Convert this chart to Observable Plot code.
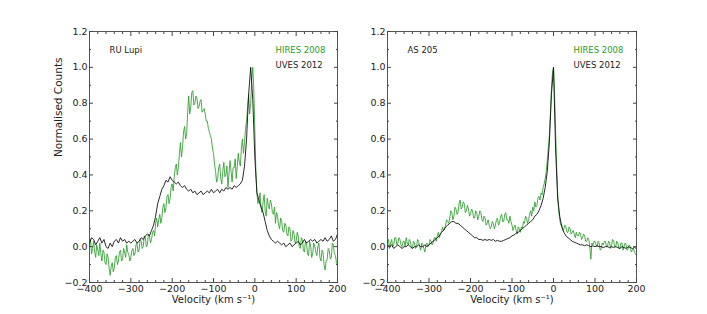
<!DOCTYPE html>
<html><head><meta charset="utf-8">
<script src="https://cdn.jsdelivr.net/npm/d3@7"></script>
<script src="https://cdn.jsdelivr.net/npm/@observablehq/plot@0.6"></script>
<style>
body{margin:0;background:#fff;}
#wrap{position:relative;width:707px;height:314px;font-family:"DejaVu Sans";}
#wrap svg{position:absolute;top:0;}
</style></head><body><div id="wrap"></div>
<script>
// UVES grid (5 km/s)
const velocity = [
-400,-395,-390,-385,-380,-375,-370,-365,-360,-355,
-350,-345,-340,-335,-330,-325,-320,-315,-310,-305,
-300,-295,-290,-285,-280,-275,-270,-265,-260,-255,
-250,-245,-240,-235,-230,-225,-220,-215,-210,-205,
-200,-195,-190,-185,-180,-175,-170,-165,-160,-155,
-150,-145,-140,-135,-130,-125,-120,-115,-110,-105,
-100,-95,-90,-85,-80,-75,-70,-65,-60,-55,
-50,-45,-40,-35,-30,-25,-20,-15,-10,-5,
0,5,10,15,20,25,30,35,40,45,
50,55,60,65,70,75,80,85,90,95,
100,105,110,115,120,125,130,135,140,145,
150,155,160,165,170,175,180,185,190,195,
200];

// HIRES grid (2.5 km/s)
const velocityFine = [
-400,-397.5,-395,-392.5,-390,-387.5,-385,-382.5,-380,-377.5,-375,-372.5,-370,-367.5,-365,-362.5,-360,-357.5,-355,-352.5,
-350,-347.5,-345,-342.5,-340,-337.5,-335,-332.5,-330,-327.5,-325,-322.5,-320,-317.5,-315,-312.5,-310,-307.5,-305,-302.5,
-300,-297.5,-295,-292.5,-290,-287.5,-285,-282.5,-280,-277.5,-275,-272.5,-270,-267.5,-265,-262.5,-260,-257.5,-255,-252.5,
-250,-247.5,-245,-242.5,-240,-237.5,-235,-232.5,-230,-227.5,-225,-222.5,-220,-217.5,-215,-212.5,-210,-207.5,-205,-202.5,
-200,-197.5,-195,-192.5,-190,-187.5,-185,-182.5,-180,-177.5,-175,-172.5,-170,-167.5,-165,-162.5,-160,-157.5,-155,-152.5,
-150,-147.5,-145,-142.5,-140,-137.5,-135,-132.5,-130,-127.5,-125,-122.5,-120,-117.5,-115,-112.5,-110,-107.5,-105,-102.5,
-100,-97.5,-95,-92.5,-90,-87.5,-85,-82.5,-80,-77.5,-75,-72.5,-70,-67.5,-65,-62.5,-60,-57.5,-55,-52.5,
-50,-47.5,-45,-42.5,-40,-37.5,-35,-32.5,-30,-27.5,-25,-22.5,-20,-17.5,-15,-12.5,-10,-7.5,-5,-2.5,
0,2.5,5,7.5,10,12.5,15,17.5,20,22.5,25,27.5,30,32.5,35,37.5,40,42.5,45,47.5,
50,52.5,55,57.5,60,62.5,65,67.5,70,72.5,75,77.5,80,82.5,85,87.5,90,92.5,95,97.5,
100,102.5,105,107.5,110,112.5,115,117.5,120,122.5,125,127.5,130,132.5,135,137.5,140,142.5,145,147.5,
150,152.5,155,157.5,160,162.5,165,167.5,170,172.5,175,177.5,180,182.5,185,187.5,190,192.5,195,197.5,
200];

const ruLupiHires = [
0.00,0.04,-0.04,-0.01,0.03,-0.03,-0.06,0.01,-0.02,-0.05,0.02,-0.04,-0.08,-0.02,-0.03,-0.09,-0.10,-0.04,-0.06,-0.12,
-0.16,-0.11,-0.09,-0.14,-0.12,-0.06,-0.05,-0.10,-0.08,-0.03,-0.02,-0.08,-0.07,-0.01,-0.03,-0.06,0.01,-0.03,-0.04,-0.08,
-0.06,-0.02,-0.01,-0.05,-0.04,0.01,0.02,-0.03,-0.02,0.04,0.03,-0.01,0.00,0.06,0.05,0.00,0.01,0.07,0.06,0.02,
0.04,0.08,0.09,0.06,0.13,0.16,0.11,0.15,0.18,0.13,0.16,0.22,0.24,0.19,0.22,0.28,0.29,0.24,0.27,0.33,
0.35,0.31,0.39,0.44,0.46,0.40,0.44,0.52,0.58,0.50,0.55,0.64,0.67,0.60,0.63,0.75,0.84,0.74,0.78,0.86,
0.87,0.79,0.80,0.84,0.83,0.77,0.78,0.81,0.82,0.75,0.76,0.77,0.74,0.70,0.70,0.66,0.64,0.62,0.60,0.55,
0.52,0.46,0.42,0.36,0.38,0.44,0.46,0.38,0.35,0.42,0.47,0.39,0.40,0.45,0.33,0.41,0.48,0.42,0.36,0.44,
0.44,0.49,0.38,0.45,0.52,0.47,0.45,0.55,0.60,0.52,0.58,0.66,0.70,0.78,0.85,0.74,0.80,0.93,1.00,0.88,
0.65,0.42,0.30,0.24,0.26,0.30,0.22,0.19,0.25,0.29,0.20,0.17,0.27,0.23,0.21,0.26,0.24,0.19,0.18,0.22,
0.13,0.19,0.17,0.12,0.10,0.16,0.14,0.09,0.08,0.13,0.12,0.07,0.06,0.11,0.10,0.03,0.04,0.09,0.07,0.02,
0.03,0.08,0.06,0.00,-0.01,0.05,0.04,-0.02,-0.03,0.03,0.02,-0.04,-0.05,0.03,0.01,-0.06,-0.04,0.02,0.00,-0.03,
-0.05,0.00,0.02,-0.06,-0.08,-0.02,-0.03,-0.10,-0.13,-0.08,-0.07,-0.01,-0.02,-0.07,-0.06,0.02,0.01,-0.04,-0.05,-0.09,
-0.10];

const ruLupiUves = [
0.02,0.05,0.04,0.01,0.03,0.05,0.02,0.04,0.00,-0.01,
0.02,0.00,0.03,0.04,0.02,0.05,0.03,0.04,0.02,0.03,
0.02,0.03,0.04,0.02,0.03,0.05,0.04,0.06,0.07,0.06,
0.09,0.12,0.17,0.24,0.28,0.32,0.34,0.37,0.36,0.39,
0.37,0.36,0.35,0.36,0.34,0.33,0.34,0.32,0.31,0.32,
0.30,0.31,0.29,0.30,0.31,0.29,0.30,0.31,0.30,0.32,
0.30,0.31,0.32,0.30,0.32,0.31,0.33,0.32,0.33,0.32,
0.34,0.33,0.34,0.35,0.37,0.45,0.60,0.85,1.00,0.82,
0.50,0.30,0.26,0.22,0.19,0.14,0.09,0.06,0.04,0.03,
0.02,0.03,0.02,0.01,0.02,0.00,0.01,0.02,0.00,0.01,
0.02,0.03,0.01,0.02,0.04,0.02,0.03,0.04,0.03,0.04,
0.02,0.03,0.04,0.03,0.05,0.03,0.04,0.06,0.03,0.04,
0.07];

const as205Hires = [
0.02,0.04,-0.01,0.02,0.04,0.00,0.01,0.05,0.05,0.01,0.02,0.05,0.04,0.01,0.00,0.03,0.03,0.00,0.05,0.02,
0.01,0.04,0.03,0.00,-0.01,0.03,0.02,-0.01,0.00,0.04,0.03,0.00,-0.02,0.02,0.01,-0.01,-0.03,0.01,0.02,0.00,
0.01,0.04,0.03,0.01,0.02,0.05,0.05,0.03,0.06,0.08,0.05,0.07,0.08,0.11,0.09,0.10,0.12,0.15,0.14,0.13,
0.16,0.20,0.19,0.15,0.17,0.22,0.21,0.18,0.19,0.24,0.26,0.21,0.22,0.25,0.24,0.19,0.20,0.23,0.21,0.17,
0.18,0.21,0.20,0.16,0.16,0.20,0.19,0.15,0.17,0.20,0.19,0.15,0.14,0.17,0.16,0.12,0.13,0.15,0.12,0.10,
0.11,0.14,0.13,0.10,0.12,0.15,0.16,0.12,0.13,0.17,0.18,0.14,0.14,0.18,0.19,0.15,0.15,0.13,0.17,0.14,
0.12,0.09,0.11,0.12,0.09,0.07,0.11,0.10,0.08,0.11,0.10,0.14,0.13,0.17,0.16,0.13,0.15,0.18,0.20,0.17,
0.22,0.20,0.25,0.22,0.23,0.27,0.28,0.26,0.30,0.29,0.33,0.35,0.38,0.42,0.48,0.55,0.62,0.74,0.88,0.97,
1.00,0.85,0.65,0.45,0.30,0.20,0.15,0.12,0.12,0.09,0.10,0.12,0.11,0.08,0.08,0.11,0.10,0.07,0.08,0.09,
0.07,0.05,0.08,0.06,0.06,0.08,0.07,0.04,0.05,0.07,0.06,0.03,0.03,0.05,0.04,0.00,-0.07,0.02,0.01,0.03,
0.03,0.01,0.00,0.03,0.02,-0.02,-0.01,0.02,0.01,0.03,0.03,0.00,0.00,0.03,0.02,-0.01,0.01,0.04,0.03,0.00,
0.00,0.03,0.02,-0.01,-0.01,0.02,0.02,-0.02,0.00,0.02,0.01,-0.02,-0.01,0.01,0.00,-0.03,-0.02,-0.01,-0.03,-0.04,
-0.05];

const as205Uves = [
0.01,0.00,0.01,-0.01,0.00,0.01,0.00,-0.01,0.00,0.00,
0.01,0.00,-0.01,0.00,0.00,0.01,0.00,0.00,0.01,0.00,
0.01,0.02,0.03,0.04,0.05,0.06,0.08,0.09,0.11,0.12,
0.13,0.14,0.14,0.13,0.13,0.12,0.11,0.10,0.09,0.08,
0.07,0.06,0.05,0.05,0.04,0.04,0.035,0.04,0.035,0.04,
0.035,0.04,0.03,0.035,0.03,0.03,0.035,0.04,0.045,0.05,
0.06,0.065,0.075,0.08,0.09,0.10,0.11,0.12,0.13,0.14,
0.15,0.17,0.18,0.20,0.23,0.27,0.33,0.42,0.58,0.85,
1.00,0.55,0.27,0.17,0.11,0.08,0.06,0.05,0.04,0.03,
0.025,0.02,0.015,0.01,0.01,0.005,0.01,0.005,0.00,0.005,
0.00,0.005,0.00,0.00,-0.005,0.00,0.00,-0.005,0.00,-0.005,
0.00,-0.005,-0.01,0.00,-0.005,-0.01,0.00,-0.005,-0.01,-0.005,
-0.01];

const xTicks = [-400, -300, -200, -100, 0, 100, 200];
const yTicks = [-0.2, 0.0, 0.2, 0.4, 0.6, 0.8, 1.0, 1.2];
const xMinor = [-380,-360,-340,-320,-280,-260,-240,-220,-180,-160,-140,-120,-80,-60,-40,-20,20,40,60,80,120,140,160,180];
const yMinor = [-0.1,0.1,0.3,0.5,0.7,0.9,1.1];
const legendNames = ["HIRES 2008", "UVES 2012"];
const objectNames = ["RU Lupi", "AS 205"];
const xLabel = "Velocity (km s\u207B\u00B9)";
const yLabel = "Normalised Counts";

const GREEN = "#2c9c2c";
const INK = "#222";
const AXIS = "#444";

function tickAxes(ticks, size) {
  const base = {tickSize: size, fill: "none", label: null, stroke: AXIS};
  return [
    Plot.axisX(ticks.x, {...base, anchor: "bottom", dy: -size}),
    Plot.axisX(ticks.x, {...base, anchor: "top", dy: size}),
    Plot.axisY(ticks.y, {...base, anchor: "left", dx: size}),
    Plot.axisY(ticks.y, {...base, anchor: "right", dx: -size})
  ];
}

function panel(name, hires, uves, o) {
  const hiresData = velocityFine.map((v, i) => ({v, c: hires[i]}));
  const uvesData = velocity.map((v, i) => ({v, c: uves[i]}));
  const marks = [
    Plot.line(hiresData, {x: "v", y: "c", stroke: GREEN, strokeWidth: 0.85}),
    Plot.line(uvesData, {x: "v", y: "c", stroke: "#111", strokeWidth: 0.9}),
    Plot.frame({stroke: AXIS, strokeWidth: 0.9}),
    ...tickAxes({x: xTicks, y: yTicks}, 4),
    ...tickAxes({x: xMinor, y: yMinor}, 2),
    Plot.axisX(xTicks, {anchor: "bottom", tickSize: 0, tickPadding: 3, tickFormat: d3.format("d"), label: null, fill: INK, fontSize: 9.5}),
    Plot.axisY(yTicks, {anchor: "left", tickSize: 0, tickPadding: 2, tickFormat: d3.format(".1f"), label: null, fill: INK, fontSize: 9.5}),
    Plot.text([xLabel], {frameAnchor: "bottom", dy: 20, fill: INK, fontSize: 10}),
    Plot.text([name], {frameAnchor: "top-left", dx: 20, dy: 15.5, textAnchor: "start", fill: INK}),
    Plot.text([legendNames[0]], {frameAnchor: "top-left", dx: 186, dy: 15, textAnchor: "start", fill: GREEN}),
    Plot.text([legendNames[1]], {frameAnchor: "top-left", dx: 186, dy: 30, textAnchor: "start", fill: INK})
  ];
  if (o.yLabel) marks.push(Plot.text([yLabel], {frameAnchor: "left", dx: -31, rotate: -90, fill: INK, fontSize: 10.5}));
  const svg = Plot.plot({
    width: o.width, height: 314,
    marginLeft: o.marginLeft, marginRight: o.marginRight, marginTop: 31, marginBottom: 32,
    x: {domain: [-400, 200]},
    y: {domain: [-0.2, 1.2]},
    style: {fontFamily: "DejaVu Sans", fontSize: "8.5px", color: INK, background: "transparent", overflow: "visible"},
    marks
  });
  svg.style.left = o.left + "px";
  return svg;
}

const wrap = document.getElementById("wrap");
wrap.appendChild(panel(objectNames[0], ruLupiHires, ruLupiUves, {left: 0, width: 350, marginLeft: 89, marginRight: 13, yLabel: true}));
wrap.appendChild(panel(objectNames[1], as205Hires, as205Uves, {left: 350, width: 357, marginLeft: 37, marginRight: 71, yLabel: false}));
</script>
</body></html>
